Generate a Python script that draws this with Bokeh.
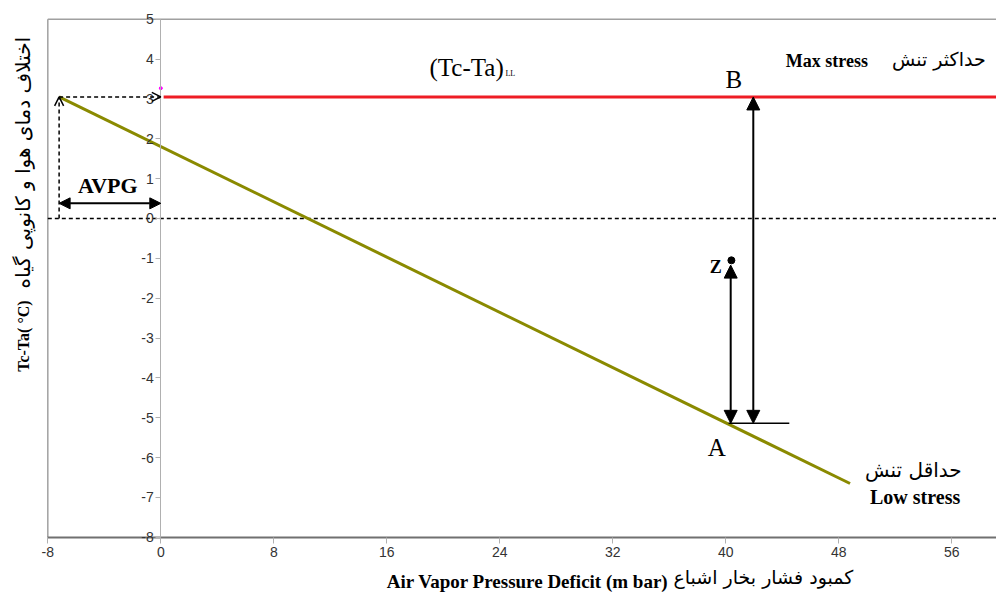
import math
from bokeh.plotting import figure
from bokeh.models import Range1d, LinearAxis, FixedTicker, Arrow, NormalHead, OpenHead, Label
from bokeh.embed import file_html
from bokeh.resources import INLINE

# ---- data ----
x_ticks = [-8, 0, 8, 16, 24, 32, 40, 48, 56]
y_ticks = [-8, -7, -6, -5, -4, -3, -2, -1, 0, 1, 2, 3, 4, 5]
baseline_x = [-7.2, 48.8]          # lower limit (low stress)
baseline_y = [3.05, -6.65]
upper_x = [0.2, 60]                # upper limit (max stress)
upper_y = [3.05, 3.05]
zero_x = [-8, 60]
zero_y = [0, 0]
frame_top_x = [-8, 60]
frame_top_y = [5, 5]
frame_left_x = [-8, -8]
frame_left_y = [-8, 5]
point_a = (40.35, -5.14)
point_z = (40.4, -1.05)
point_b_x = 41.95
avpg_x = -7.2
avpg_y = 0.38
a_line_x = [40.2, 44.5]
a_line_y = [-5.14, -5.14]
marker_x = [0]
marker_y = [3.27]

SERIF = "Liberation Serif"
SANS = "Liberation Sans"
FA = "DejaVu Sans"

p = figure(frame_width=996, frame_height=595, min_border=0,
           x_range=Range1d(-11.35, 59.17), y_range=Range1d(-9.46, 5.47),
           x_axis_location=None, y_axis_location=None,
           output_backend="svg", toolbar_location=None)
p.grid.visible = False
p.outline_line_color = None
p.background_fill_color = "white"
p.border_fill_color = "white"

xaxis = LinearAxis(ticker=FixedTicker(ticks=x_ticks), fixed_location=-8, bounds=(-8, 60))
xaxis.axis_line_color = "#707070"
xaxis.axis_line_width = 2
xaxis.major_tick_line_color = "#b0b0b0"
xaxis.major_tick_out = 6
xaxis.major_tick_in = 0
xaxis.minor_tick_line_color = None
xaxis.major_label_text_font = SANS
xaxis.major_label_text_font_size = "14px"
xaxis.major_label_text_color = "#333333"
xaxis.major_label_standoff = 4
xaxis.major_label_overrides = {t: str(t) for t in x_ticks}
p.add_layout(xaxis, "below")

yaxis = LinearAxis(ticker=FixedTicker(ticks=y_ticks), fixed_location=0, bounds=(-8, 5))
yaxis.axis_line_color = "#b0b0b0"
yaxis.axis_line_width = 1
yaxis.major_tick_line_color = "#b0b0b0"
yaxis.major_tick_out = 5
yaxis.major_tick_in = 0
yaxis.minor_tick_line_color = None
yaxis.major_label_text_font = SANS
yaxis.major_label_text_font_size = "14px"
yaxis.major_label_text_color = "#333333"
yaxis.major_label_standoff = 2
yaxis.major_label_overrides = {t: str(t) for t in y_ticks}
p.add_layout(yaxis, "left")

# frame borders (top, left)
p.line(frame_top_x, frame_top_y, line_color="#a0a0a0", line_width=1.5)
p.line(frame_left_x, frame_left_y, line_color="#a0a0a0", line_width=1.5)

# zero dashed line
p.line(zero_x, zero_y, line_color="black", line_width=1.5, line_dash="4 3")

# lines
p.line(upper_x, upper_y, line_color="#ee1c25", line_width=3)
p.line(baseline_x, baseline_y, line_color="#8a8a00", line_width=3)

# dashed guide arrows
p.add_layout(Arrow(x_start=avpg_x, y_start=0, x_end=avpg_x, y_end=baseline_y[0],
                   line_dash="4 3", line_width=1.5, line_color="black",
                   end=OpenHead(size=9, line_width=1.5, line_color="black")))
p.add_layout(Arrow(x_start=avpg_x, y_start=baseline_y[0], x_end=0, y_end=baseline_y[0],
                   line_dash="4 3", line_width=1.5, line_color="black",
                   end=OpenHead(size=9, line_width=1.5, line_color="black")))

# AVPG double arrow
p.add_layout(Arrow(x_start=avpg_x, y_start=avpg_y, x_end=0, y_end=avpg_y,
                   line_width=2, line_color="black",
                   start=NormalHead(size=11, fill_color="black", line_color="black"),
                   end=NormalHead(size=11, fill_color="black", line_color="black")))

# vertical arrows
p.add_layout(Arrow(x_start=point_b_x, y_start=point_a[1], x_end=point_b_x, y_end=upper_y[0],
                   line_width=2, line_color="black",
                   start=NormalHead(size=13, fill_color="black", line_color="black"),
                   end=NormalHead(size=13, fill_color="black", line_color="black")))
p.add_layout(Arrow(x_start=point_a[0], y_start=point_a[1], x_end=point_a[0], y_end=point_z[1] - 0.12,
                   line_width=2, line_color="black",
                   start=NormalHead(size=13, fill_color="black", line_color="black"),
                   end=NormalHead(size=13, fill_color="black", line_color="black")))
p.line(a_line_x, a_line_y, line_color="black", line_width=1.5)
p.scatter([point_z[0]], [point_z[1]], size=7, color="black")
p.scatter(marker_x, marker_y, size=3, color="magenta")

def lab(x, y, text, size, font=SERIF, style="normal", align="left", baseline="middle", angle=0):
    p.add_layout(Label(x=x, y=y, text=text, text_font=font, text_font_size=size,
                       text_font_style=style, text_align=align, text_baseline=baseline,
                       angle=angle, text_color="black"))

lab(24.28, 3.79, "(Tc-Ta)", "25px", align="right")
lab(24.4, 3.64, "LL", "8px")
lab(40.57, 3.49, "B", "25px", align="center")
lab(39.36, -5.75, "A", "25px", align="center")
lab(39.3, -1.22, "Z", "18px", style="bold", align="center")
lab(-3.75, 0.84, "AVPG", "22px", style="bold", align="center")
lab(44.25, 3.94, "Max stress", "18px", style="bold")
lab(58.4, 4.0, "حداکثر تنش", "19px", font=FA, align="right")
lab(56.7, -6.3, "حداقل تنش", "20px", font=FA, align="right")
lab(56.6, -6.98, "Low stress", "20px", style="bold", align="right")

# axis titles
lab(35.96, -9.1, "Air Vapor Pressure Deficit (m bar)", "19px", style="bold", align="right")
lab(36.3, -9.0, "کمبود فشار بخار اشباع", "19px", font=FA, align="left")
lab(-9.75, -2.95, "Tc-Ta( °C)", "16px", style="bold", align="center", angle=math.pi / 2)
lab(-9.75, 1.4, "اختلاف دمای هوا و کانوپی گیاه", "20px", font=FA, align="center", angle=math.pi / 2)

open("out.html", "w").write(file_html(p, INLINE))
